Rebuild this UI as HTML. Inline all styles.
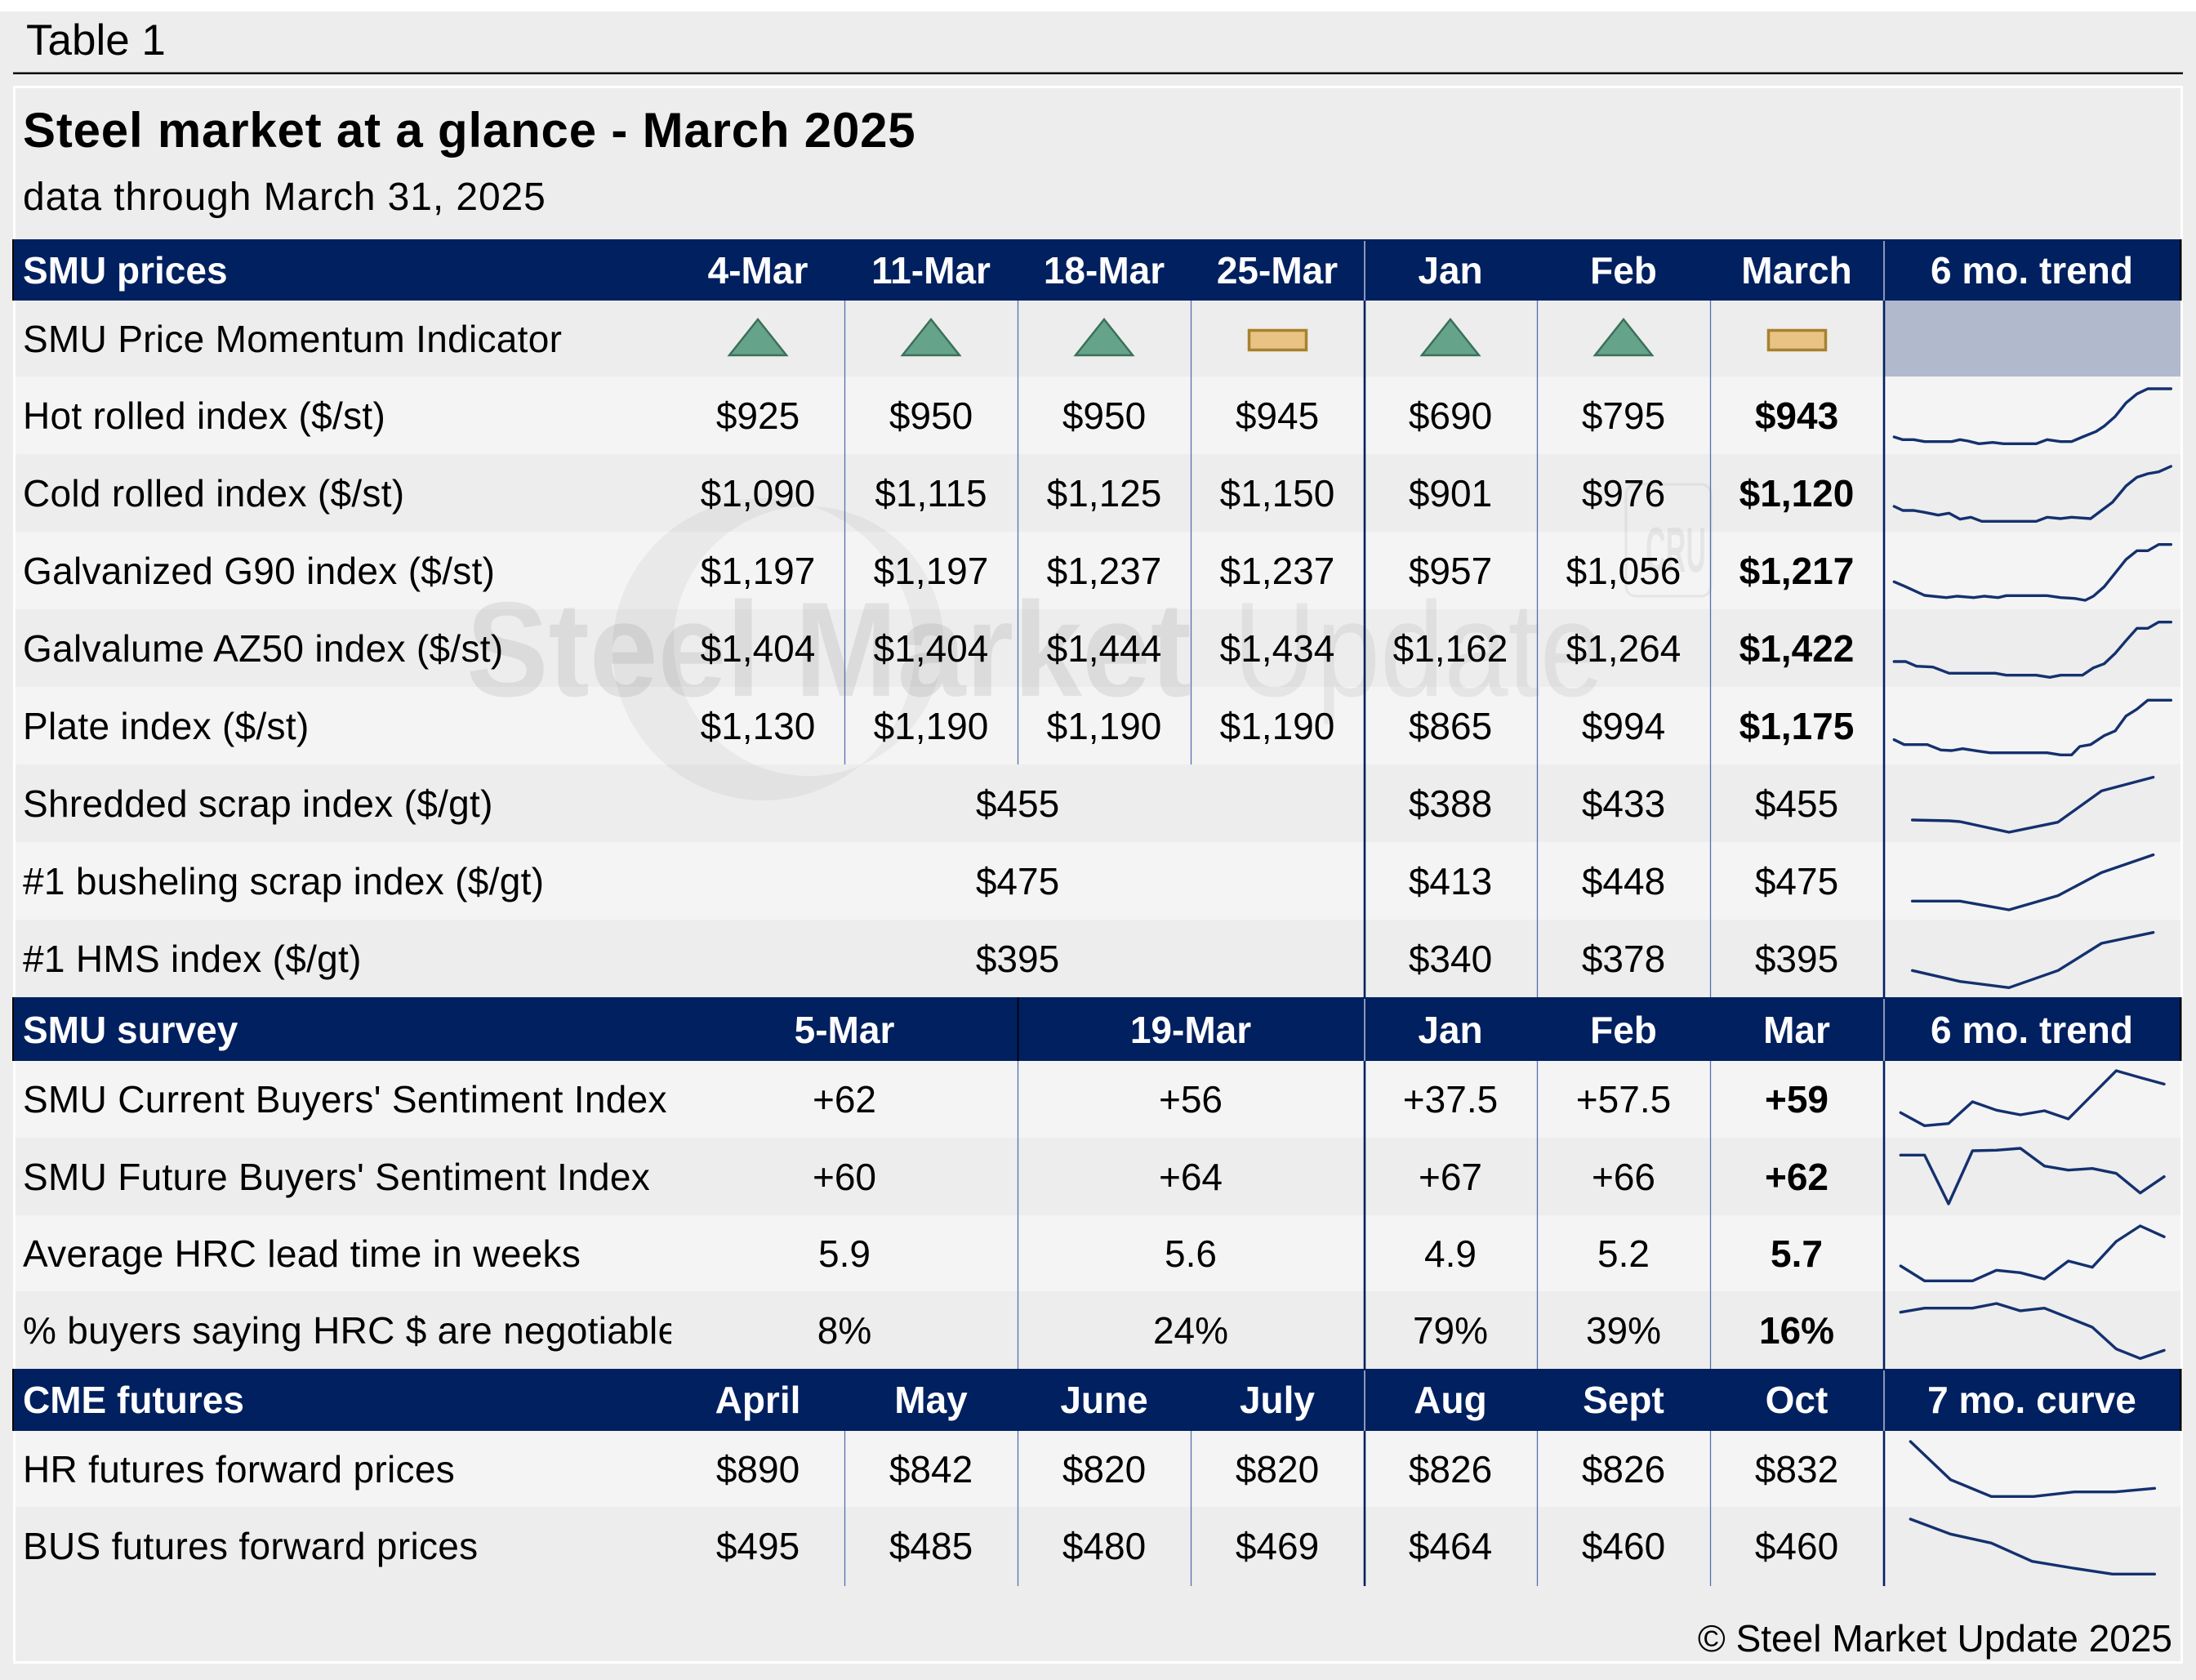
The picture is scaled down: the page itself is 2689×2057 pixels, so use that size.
<!DOCTYPE html>
<html>
<head>
<meta charset="utf-8">
<style>
html,body{margin:0;padding:0;background:#ededed;}
svg{display:block;}
text{font-family:"Liberation Sans",Arial,Helvetica,sans-serif;}
.lb{font-size:46px;letter-spacing:0.3px;fill:#000;}
.v{font-size:46px;fill:#000;text-anchor:middle;}
.vb{font-size:46px;fill:#000;text-anchor:middle;font-weight:bold;}
.h{font-size:46px;fill:#fff;font-weight:bold;}
.hc{font-size:46px;fill:#fff;font-weight:bold;text-anchor:middle;}
.sp{fill:none;stroke:#14306e;stroke-width:3.4;stroke-linejoin:round;stroke-linecap:round;}
</style>
</head>
<body>
<svg width="2689" height="2057" viewBox="0 0 2689 2057" xmlns="http://www.w3.org/2000/svg">
<defs>
  <clipPath id="lc"><rect x="0" y="0" width="822" height="2057"/></clipPath>
</defs>
<!-- backgrounds -->
<rect x="0" y="0" width="2689" height="2057" fill="#ededed"/>
<rect x="0" y="0" width="2689" height="14" fill="#ffffff"/>
<text x="32" y="67" style="font-size:53px;fill:#000;">Table 1</text>
<rect x="16" y="88.5" width="2657" height="2.4" fill="#000"/>
<!-- panel -->
<rect x="17.5" y="106.5" width="2654" height="1929" fill="#ededed" stroke="#ffffff" stroke-width="3"/>
<text x="28" y="180" style="font-size:60px;font-weight:bold;fill:#000;letter-spacing:0.8px;">Steel market at a glance - March 2025</text>
<text x="28" y="257" style="font-size:48px;fill:#000;letter-spacing:0.9px;">data through March 31, 2025</text>

<!-- row backgrounds -->
<g fill="#f4f4f4">
  <rect x="19" y="461" width="2651" height="95"/>
  <rect x="19" y="651" width="2651" height="95"/>
  <rect x="19" y="841" width="2651" height="95"/>
  <rect x="19" y="1031" width="2651" height="95"/>
  <rect x="19" y="1299" width="2651" height="94"/>
  <rect x="19" y="1488" width="2651" height="93"/>
  <rect x="19" y="1752" width="2651" height="93"/>
</g>
<g fill="#ededed">
  <rect x="19" y="368" width="2651" height="93"/>
  <rect x="19" y="556" width="2651" height="95"/>
  <rect x="19" y="746" width="2651" height="95"/>
  <rect x="19" y="936" width="2651" height="95"/>
  <rect x="19" y="1126" width="2651" height="95"/>
  <rect x="19" y="1393" width="2651" height="95"/>
  <rect x="19" y="1581" width="2651" height="95"/>
  <rect x="19" y="1845" width="2651" height="95"/>
</g>
<!-- PMI trend cell -->
<rect x="2307" y="368" width="363" height="93" fill="#b1b9cc"/>

<!-- watermark -->
<path d="M 935 610 A 185 185 0 1 0 935 980 A 185 185 0 1 0 935 610 Z M 990 620 A 165 165 0 1 1 990 950 A 165 165 0 1 1 990 620 Z" fill="rgba(0,0,0,0.045)" fill-rule="evenodd"/>
<text x="571" y="852" textLength="888" lengthAdjust="spacingAndGlyphs" style="font-size:165px;font-weight:bold;fill:rgba(0,0,0,0.075);">Steel Market</text>
<text x="1510" y="852" textLength="454" lengthAdjust="spacingAndGlyphs" style="font-size:165px;fill:rgba(0,0,0,0.06);">Update</text>
<rect x="1991" y="593" width="104" height="137" rx="12" fill="none" stroke="rgba(0,0,0,0.06)" stroke-width="3"/>
<text x="2015" y="700" textLength="74" lengthAdjust="spacingAndGlyphs" style="font-size:78px;font-weight:bold;fill:rgba(0,0,0,0.06);">CRU</text>

<!-- headers -->
<g fill="#002060">
  <rect x="16" y="293" width="2655" height="75"/>
  <rect x="16" y="1221" width="2655" height="78"/>
  <rect x="16" y="1676" width="2655" height="76"/>
</g>
<g fill="#000">
  <rect x="15" y="293" width="2" height="75"/><rect x="2669" y="293" width="2.5" height="75"/>
  <rect x="15" y="1221" width="2" height="78"/><rect x="2669" y="1221" width="2.5" height="78"/>
  <rect x="15" y="1676" width="2" height="76"/><rect x="2669" y="1676" width="2.5" height="76"/>
</g>
<!-- header light separators -->
<g stroke="#8a96b8" stroke-width="2">
  <line x1="1671" y1="295" x2="1671" y2="368"/><line x1="2307" y1="295" x2="2307" y2="368"/>
  <line x1="1671" y1="1223" x2="1671" y2="1299"/><line x1="2307" y1="1223" x2="2307" y2="1299"/>
  <line x1="1671" y1="1678" x2="1671" y2="1752"/><line x1="2307" y1="1678" x2="2307" y2="1752"/>
</g>
<line x1="1246.5" y1="1221" x2="1246.5" y2="1299" stroke="#000" stroke-width="1.6"/>

<!-- thin vertical separators -->
<g stroke="#5570b0" stroke-width="1.3">
  <line x1="1034.5" y1="368" x2="1034.5" y2="936"/>
  <line x1="1246.5" y1="368" x2="1246.5" y2="936"/>
  <line x1="1458.5" y1="368" x2="1458.5" y2="936"/>
  <line x1="1034.5" y1="1752" x2="1034.5" y2="1942"/>
  <line x1="1246.5" y1="1752" x2="1246.5" y2="1942"/>
  <line x1="1458.5" y1="1752" x2="1458.5" y2="1942"/>
  <line x1="1246.5" y1="1299" x2="1246.5" y2="1676"/>
  <line x1="1882.5" y1="368" x2="1882.5" y2="1221"/>
  <line x1="2094.5" y1="368" x2="2094.5" y2="1221"/>
  <line x1="1882.5" y1="1299" x2="1882.5" y2="1676"/>
  <line x1="2094.5" y1="1299" x2="2094.5" y2="1676"/>
  <line x1="1882.5" y1="1752" x2="1882.5" y2="1942"/>
  <line x1="2094.5" y1="1752" x2="2094.5" y2="1942"/>
</g>
<g stroke="#002060" stroke-width="2.6">
  <line x1="1671" y1="368" x2="1671" y2="1221"/>
  <line x1="2307" y1="368" x2="2307" y2="1221"/>
  <line x1="1671" y1="1299" x2="1671" y2="1676"/>
  <line x1="2307" y1="1299" x2="2307" y2="1676"/>
  <line x1="1671" y1="1752" x2="1671" y2="1942"/>
  <line x1="2307" y1="1752" x2="2307" y2="1942"/>
</g>

<!-- header texts -->
<text class="h" x="28" y="347">SMU prices</text>
<text class="hc" x="928" y="347">4-Mar</text>
<text class="hc" x="1140" y="347">11-Mar</text>
<text class="hc" x="1352" y="347">18-Mar</text>
<text class="hc" x="1564" y="347">25-Mar</text>
<text class="hc" x="1776" y="347">Jan</text>
<text class="hc" x="1988" y="347">Feb</text>
<text class="hc" x="2200" y="347">March</text>
<text class="hc" x="2488" y="347">6 mo. trend</text>

<text class="h" x="28" y="1277">SMU survey</text>
<text class="hc" x="1034" y="1277">5-Mar</text>
<text class="hc" x="1458" y="1277">19-Mar</text>
<text class="hc" x="1776" y="1277">Jan</text>
<text class="hc" x="1988" y="1277">Feb</text>
<text class="hc" x="2200" y="1277">Mar</text>
<text class="hc" x="2488" y="1277">6 mo. trend</text>

<text class="h" x="28" y="1730">CME futures</text>
<text class="hc" x="928" y="1730">April</text>
<text class="hc" x="1140" y="1730">May</text>
<text class="hc" x="1352" y="1730">June</text>
<text class="hc" x="1564" y="1730">July</text>
<text class="hc" x="1776" y="1730">Aug</text>
<text class="hc" x="1988" y="1730">Sept</text>
<text class="hc" x="2200" y="1730">Oct</text>
<text class="hc" x="2488" y="1730">7 mo. curve</text>

<!-- PMI icons -->
<g fill="#66a38b" stroke="#3b705a" stroke-width="2.5" stroke-linejoin="miter">
  <polygon points="928,391 963,435 893,435"/>
  <polygon points="1140,391 1175,435 1105,435"/>
  <polygon points="1352,391 1387,435 1317,435"/>
  <polygon points="1776,391 1811,435 1741,435"/>
  <polygon points="1988,391 2023,435 1953,435"/>
</g>
<g fill="#e9c383" stroke="#a7812e" stroke-width="3.5">
  <rect x="1529.5" y="404.5" width="70" height="24"/>
  <rect x="2165.5" y="404.5" width="70" height="24"/>
</g>

<!-- row labels -->
<g clip-path="url(#lc)">
<text class="lb" x="28" y="431">SMU Price Momentum Indicator</text>
<text class="lb" x="28" y="525">Hot rolled index ($/st)</text>
<text class="lb" x="28" y="620">Cold rolled index ($/st)</text>
<text class="lb" x="28" y="715">Galvanized G90 index ($/st)</text>
<text class="lb" x="28" y="810">Galvalume AZ50 index ($/st)</text>
<text class="lb" x="28" y="905">Plate index ($/st)</text>
<text class="lb" x="28" y="1000">Shredded scrap index ($/gt)</text>
<text class="lb" x="28" y="1095">#1 busheling scrap index ($/gt)</text>
<text class="lb" x="28" y="1190">#1 HMS index ($/gt)</text>
<text class="lb" x="28" y="1362">SMU Current Buyers' Sentiment Index</text>
<text class="lb" x="28" y="1457">SMU Future Buyers' Sentiment Index</text>
<text class="lb" x="28" y="1551">Average HRC lead time in weeks</text>
<text class="lb" x="28" y="1645">% buyers saying HRC $ are negotiable</text>
<text class="lb" x="28" y="1815">HR futures forward prices</text>
<text class="lb" x="28" y="1909">BUS futures forward prices</text>
</g>

<!-- price values -->
<g>
<text class="v" x="928" y="525">$925</text><text class="v" x="1140" y="525">$950</text><text class="v" x="1352" y="525">$950</text><text class="v" x="1564" y="525">$945</text><text class="v" x="1776" y="525">$690</text><text class="v" x="1988" y="525">$795</text><text class="vb" x="2200" y="525">$943</text>
<text class="v" x="928" y="620">$1,090</text><text class="v" x="1140" y="620">$1,115</text><text class="v" x="1352" y="620">$1,125</text><text class="v" x="1564" y="620">$1,150</text><text class="v" x="1776" y="620">$901</text><text class="v" x="1988" y="620">$976</text><text class="vb" x="2200" y="620">$1,120</text>
<text class="v" x="928" y="715">$1,197</text><text class="v" x="1140" y="715">$1,197</text><text class="v" x="1352" y="715">$1,237</text><text class="v" x="1564" y="715">$1,237</text><text class="v" x="1776" y="715">$957</text><text class="v" x="1988" y="715">$1,056</text><text class="vb" x="2200" y="715">$1,217</text>
<text class="v" x="928" y="810">$1,404</text><text class="v" x="1140" y="810">$1,404</text><text class="v" x="1352" y="810">$1,444</text><text class="v" x="1564" y="810">$1,434</text><text class="v" x="1776" y="810">$1,162</text><text class="v" x="1988" y="810">$1,264</text><text class="vb" x="2200" y="810">$1,422</text>
<text class="v" x="928" y="905">$1,130</text><text class="v" x="1140" y="905">$1,190</text><text class="v" x="1352" y="905">$1,190</text><text class="v" x="1564" y="905">$1,190</text><text class="v" x="1776" y="905">$865</text><text class="v" x="1988" y="905">$994</text><text class="vb" x="2200" y="905">$1,175</text>
<text class="v" x="1246" y="1000">$455</text><text class="v" x="1776" y="1000">$388</text><text class="v" x="1988" y="1000">$433</text><text class="v" x="2200" y="1000">$455</text>
<text class="v" x="1246" y="1095">$475</text><text class="v" x="1776" y="1095">$413</text><text class="v" x="1988" y="1095">$448</text><text class="v" x="2200" y="1095">$475</text>
<text class="v" x="1246" y="1190">$395</text><text class="v" x="1776" y="1190">$340</text><text class="v" x="1988" y="1190">$378</text><text class="v" x="2200" y="1190">$395</text>
</g>
<!-- survey values -->
<g>
<text class="v" x="1034" y="1362">+62</text><text class="v" x="1458" y="1362">+56</text><text class="v" x="1776" y="1362">+37.5</text><text class="v" x="1988" y="1362">+57.5</text><text class="vb" x="2200" y="1362">+59</text>
<text class="v" x="1034" y="1457">+60</text><text class="v" x="1458" y="1457">+64</text><text class="v" x="1776" y="1457">+67</text><text class="v" x="1988" y="1457">+66</text><text class="vb" x="2200" y="1457">+62</text>
<text class="v" x="1034" y="1551">5.9</text><text class="v" x="1458" y="1551">5.6</text><text class="v" x="1776" y="1551">4.9</text><text class="v" x="1988" y="1551">5.2</text><text class="vb" x="2200" y="1551">5.7</text>
<text class="v" x="1034" y="1645">8%</text><text class="v" x="1458" y="1645">24%</text><text class="v" x="1776" y="1645">79%</text><text class="v" x="1988" y="1645">39%</text><text class="vb" x="2200" y="1645">16%</text>
</g>
<!-- futures values -->
<g>
<text class="v" x="928" y="1815">$890</text><text class="v" x="1140" y="1815">$842</text><text class="v" x="1352" y="1815">$820</text><text class="v" x="1564" y="1815">$820</text><text class="v" x="1776" y="1815">$826</text><text class="v" x="1988" y="1815">$826</text><text class="v" x="2200" y="1815">$832</text>
<text class="v" x="928" y="1909">$495</text><text class="v" x="1140" y="1909">$485</text><text class="v" x="1352" y="1909">$480</text><text class="v" x="1564" y="1909">$469</text><text class="v" x="1776" y="1909">$464</text><text class="v" x="1988" y="1909">$460</text><text class="v" x="2200" y="1909">$460</text>
</g>

<!-- sparklines -->
<g transform="translate(2290,450) scale(0.33333)">
<polyline class="sp" vector-effect="non-scaling-stroke" points="88,255 120,265 160,265 200,272 300,272 330,265 360,270 400,280 450,275 490,280 610,280 650,265 700,272 740,272 780,255 830,235 860,215 900,180 940,130 980,97 1020,78 1105,78"/>
<polyline class="sp" vector-effect="non-scaling-stroke" points="88,510 120,525 160,525 200,532 250,542 290,535 330,557 370,550 410,565 610,565 650,550 700,555 740,550 810,555 850,525 890,495 940,435 980,403 1020,390 1060,383 1105,363"/>
<polyline class="sp" vector-effect="non-scaling-stroke" points="88,787 130,805 200,837 280,845 320,840 380,845 420,840 470,845 500,838 650,838 700,845 750,848 790,855 820,840 860,805 900,755 940,705 980,673 1020,673 1060,650 1105,650"/>
<polyline class="sp" vector-effect="non-scaling-stroke" points="88,1080 130,1080 170,1097 230,1100 290,1123 460,1123 500,1130 610,1130 660,1138 700,1130 780,1130 820,1103 860,1088 900,1050 940,1003 980,958 1020,958 1060,935 1105,935"/>
<polyline class="sp" vector-effect="non-scaling-stroke" points="88,1367 125,1385 210,1385 260,1405 300,1407 340,1400 390,1408 440,1415 650,1415 700,1423 740,1423 770,1392 810,1385 860,1352 900,1335 940,1280 980,1255 1020,1222 1105,1222"/>
</g>
<g transform="translate(2290,900) scale(0.33333)">
<polyline class="sp" vector-effect="non-scaling-stroke" points="155,312 290,315 330,318 510,357 690,320 850,205 1040,155"/>
<polyline class="sp" vector-effect="non-scaling-stroke" points="155,610 330,610 510,642 690,590 850,505 1040,440"/>
<polyline class="sp" vector-effect="non-scaling-stroke" points="155,865 330,905 510,928 690,865 850,765 1040,725"/>
</g>
<g transform="translate(2290,1200) scale(0.33333)">
<polyline class="sp" vector-effect="non-scaling-stroke" points="112,487 200,535 288,527 376,447 464,478 552,495 640,480 728,510 904,333 992,358 1080,382"/>
<polyline class="sp" vector-effect="non-scaling-stroke" points="112,643 200,643 288,822 376,627 464,625 552,618 640,683 728,698 816,692 904,710 992,782 1080,722"/>
<polyline class="sp" vector-effect="non-scaling-stroke" points="112,1050 200,1105 288,1105 376,1105 464,1066 552,1075 640,1098 728,1032 816,1055 904,960 992,903 1080,943"/>
<polyline class="sp" vector-effect="non-scaling-stroke" points="112,1220 200,1205 288,1205 376,1205 464,1188 552,1215 640,1205 728,1240 816,1275 904,1355 992,1390 1080,1360"/>
</g>
<g transform="translate(2290,1670) scale(0.33333)">
<polyline class="sp" vector-effect="non-scaling-stroke" points="148,285 295,425 445,487 600,487 750,470 900,470 1045,457"/>
<polyline class="sp" vector-effect="non-scaling-stroke" points="148,570 295,625 445,658 595,725 745,750 890,772 1045,772"/>
</g>

<!-- footer -->
<text x="2660" y="2022" text-anchor="end" style="font-size:46px;fill:#000;">© Steel Market Update 2025</text>
</svg>
</body>
</html>
